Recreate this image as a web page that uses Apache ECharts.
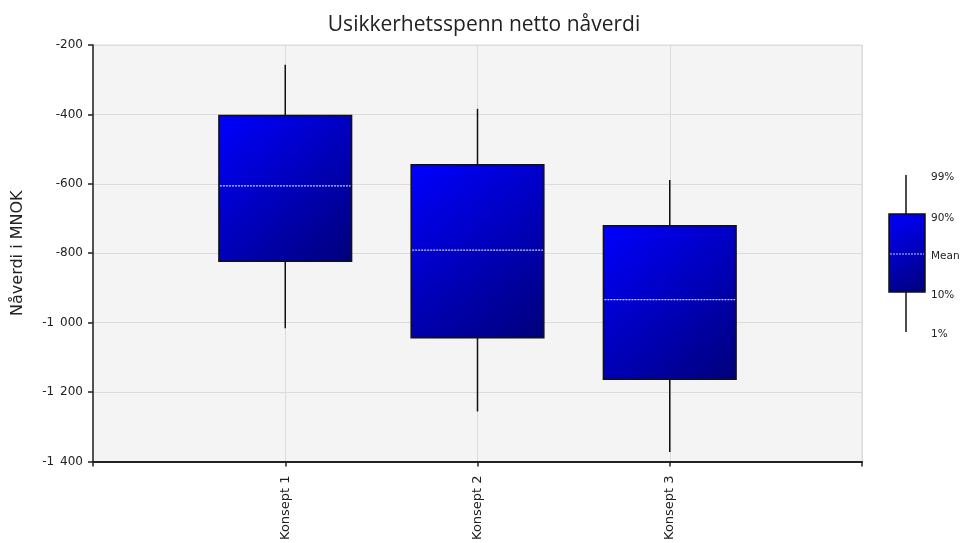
<!DOCTYPE html>
<html>
<head>
<meta charset="utf-8">
<script src="https://cdn.jsdelivr.net/npm/echarts@6/dist/echarts.min.js"></script>
<style>
  html, body { margin: 0; padding: 0; background: #fff; }
  #chart { width: 962px; height: 543px; }
</style>
</head>
<body>
<div id="chart"></div>
<script>
const categories = ['Konsept 1', 'Konsept 2', 'Konsept 3']
// percentiles (MNOK)
const p1 = [-1016, -1256, -1373]
const p10 = [-823, -1044, -1163]
const mean = [-606, -791, -934]
const p90 = [-403, -545, -721]
const p99 = [-257, -384, -589]
const legendLabels = ['99%', '90%', 'Mean', '10%', '1%']

const boxWidth = 0.69
const fontAxis = 'DejaVu Sans'

const chart = echarts.init(document.getElementById('chart'), null, { renderer: 'canvas' })

const data = categories.map((c, i) => [i + 1, p1[i], p10[i], mean[i], p90[i], p99[i]])

const boxFill = {
  type: 'linear', x: 0, y: 0, x2: 1, y2: 1,
  colorStops: [
    { offset: 0, color: '#0000ff' },
    { offset: 1, color: '#00007a' },
  ],
}

function fmt(v) {
  const s = Math.abs(v).toString()
  const body = s.length > 3 ? s.slice(0, s.length - 3) + '\u2002' + s.slice(-3) : s
  return (v < 0 ? '-' : '') + body
}

// legend on the right (drawn as decoration)
const lg = { x0: 889, x1: 925, top: 214, bot: 292, wTop: 175, wBot: 332, mid: 254, tx: 931 }
const legendY = [177, 218, 256, 295, 334]
const legendGraphic = [
  { type: 'line', shape: { x1: 906, y1: lg.wTop, x2: 906, y2: lg.bot }, style: { stroke: '#111', lineWidth: 1.5 } },
  { type: 'line', shape: { x1: 906, y1: lg.top, x2: 906, y2: lg.wBot }, style: { stroke: '#111', lineWidth: 1.5 } },
  { type: 'rect', shape: { x: lg.x0, y: lg.top, width: lg.x1 - lg.x0, height: lg.bot - lg.top }, style: { fill: boxFill, stroke: '#111', lineWidth: 1.5 } },
  { type: 'line', shape: { x1: lg.x0 + 1, y1: lg.mid, x2: lg.x1 - 1, y2: lg.mid }, style: { stroke: '#c8c8ff', lineWidth: 1.2, lineDash: [2, 1] } },
].concat(legendLabels.map((t, i) => ({
  type: 'text', x: lg.tx, y: legendY[i],
  style: { text: t, fill: '#222', font: '10.5px "DejaVu Sans"', verticalAlign: 'middle', align: 'left' },
})))

chart.setOption({
  animation: false,
  title: {
    text: 'Usikkerhetsspenn netto nåverdi',
    left: 479, top: 10, textAlign: 'center',
    textStyle: { fontFamily: 'Open Sans', fontSize: 21, fontWeight: 'normal', color: '#222' },
  },
  grid: {
    left: 93, right: 100, top: 45, bottom: 81,
    show: true, backgroundColor: '#f4f4f4', borderColor: '#dcdcdc', borderWidth: 1,
  },
  xAxis: {
    type: 'value', min: 0, max: 4, interval: 1,
    axisLine: { lineStyle: { color: '#222', width: 2 } },
    axisTick: { show: true, length: 5, lineStyle: { color: '#222', width: 1.5 } },
    splitLine: { show: true, lineStyle: { color: '#dcdcdc', width: 1 } },
    axisLabel: {
      rotate: 90, margin: 14, color: '#222', fontFamily: fontAxis, fontSize: 13,
      formatter: (v) => (v >= 1 && v <= 3 ? categories[v - 1] : ''),
    },
  },
  yAxis: {
    type: 'value', min: -1400, max: -200, interval: 200,
    name: 'Nåverdi i MNOK', nameLocation: 'middle', nameGap: 67, nameRotate: 90,
    nameTextStyle: { fontFamily: fontAxis, fontSize: 16, color: '#222' },
    axisLine: { show: true, lineStyle: { color: '#222', width: 1.5 } },
    axisTick: { show: true, length: 5, lineStyle: { color: '#222', width: 1.5 } },
    splitLine: { show: true, lineStyle: { color: '#dcdcdc', width: 1 } },
    axisLabel: { margin: 10, color: '#222', fontFamily: fontAxis, fontSize: 12, formatter: fmt },
  },
  series: [{
    type: 'custom',
    data: data,
    encode: { x: 0, y: [1, 2, 3, 4, 5] },
    renderItem: function (params, api) {
      const x = api.value(0)
      const pt = (k) => api.coord([x, api.value(k)])
      const a1 = pt(1), a10 = pt(2), am = pt(3), a90 = pt(4), a99 = pt(5)
      const w = api.size([boxWidth, 0])[0]
      const cx = a1[0]
      return {
        type: 'group',
        children: [
          { type: 'line', shape: { x1: cx, y1: a99[1], x2: cx, y2: a90[1] }, style: { stroke: '#111', lineWidth: 1.5 } },
          { type: 'line', shape: { x1: cx, y1: a10[1], x2: cx, y2: a1[1] }, style: { stroke: '#111', lineWidth: 1.5 } },
          { type: 'rect', shape: { x: cx - w / 2, y: a90[1], width: w, height: a10[1] - a90[1] }, style: { fill: boxFill, stroke: '#111', lineWidth: 1.5 } },
          { type: 'line', shape: { x1: cx - w / 2 + 1, y1: am[1], x2: cx + w / 2 - 1, y2: am[1] }, style: { stroke: '#c8c8ff', lineWidth: 1.2, lineDash: [2, 1] } },
        ],
      }
    },
  }],
  graphic: legendGraphic,
})
</script>
</body>
</html>
